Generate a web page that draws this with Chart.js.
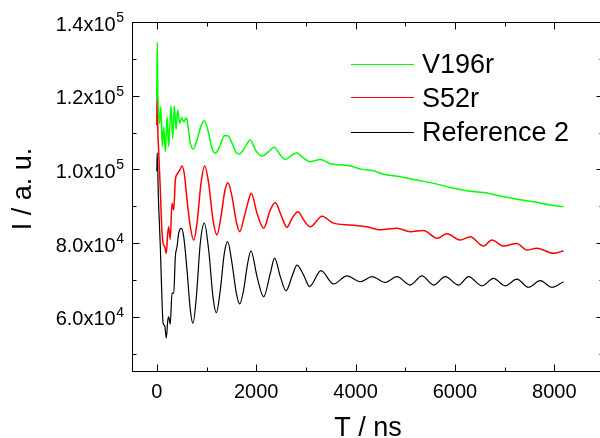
<!DOCTYPE html>
<html>
<head>
<meta charset="utf-8">
<script src="https://cdn.jsdelivr.net/npm/chart.js@4.4.0/dist/chart.umd.min.js"></script>
<style>
  html, body { margin: 0; padding: 0; background: #fff; overflow: hidden; }
  /* plot frame runs a few px past the right edge of the window, as in the original */
  #wrap { width: 610px; height: 438px; }
</style>
</head>
<body>
<div id="wrap"><canvas id="chart"></canvas></div>
<script>
// Series values (T in ns, I in a. u.)
const v196rT = [0, 8, 20, 40, 56, 80, 110, 137, 171, 205, 238, 285, 318, 352, 386, 419, 460, 500, 540, 594, 627, 674, 728, 808, 895, 956, 1043, 1110, 1177, 1278, 1358, 1425, 1513, 1600, 1667, 1761, 1881, 1982, 2117, 2250, 2364, 2485, 2585, 2720, 2820, 2921, 3088, 3290, 3491, 3726, 3893, 4128, 4362, 4563, 4899, 5235, 5570, 5905, 6241, 6575, 6911, 7247, 7582, 7918, 8185];
const v196rI = [119000, 134500, 121000, 114000, 112500, 117000, 106200, 111600, 104800, 114300, 106200, 117200, 108400, 117200, 110800, 116100, 112500, 114100, 112900, 114100, 111700, 107100, 105500, 108000, 112000, 113200, 109800, 105700, 104400, 106600, 109100, 109100, 107100, 104500, 104200, 105700, 108000, 105300, 103600, 104800, 106000, 103900, 102700, 103900, 104500, 103400, 102100, 102700, 101500, 101200, 100900, 100000, 99600, 98700, 98000, 97100, 96200, 95100, 94200, 93700, 92800, 91900, 91200, 90300, 89900];

const s52rT = [0, 5, 15, 40, 70, 100, 125, 160, 191, 215, 238, 270, 305, 340, 372, 420, 460, 507, 560, 607, 674, 741, 808, 889, 963, 1043, 1130, 1210, 1291, 1372, 1432, 1513, 1600, 1667, 1761, 1848, 1901, 2016, 2149, 2284, 2384, 2485, 2620, 2720, 2841, 2954, 3088, 3324, 3551, 3893, 4229, 4497, 4833, 5101, 5369, 5638, 5839, 6107, 6308, 6575, 6744, 6978, 7247, 7448, 7650, 7984, 8185];
const s52rI = [112000, 122500, 113000, 104000, 94400, 84000, 80000, 79000, 77200, 82000, 84400, 81000, 90800, 89000, 97100, 98900, 99800, 100900, 98100, 91700, 84400, 80800, 85400, 96200, 100900, 96200, 86300, 82200, 87200, 94400, 96400, 92600, 85800, 83100, 87200, 91700, 93500, 88100, 84000, 89000, 91000, 88100, 84300, 86700, 88500, 86300, 84400, 87300, 85400, 84900, 84400, 83600, 84000, 83100, 83400, 81300, 82500, 80800, 81700, 79200, 80800, 79200, 79900, 78100, 78600, 77200, 77900];

const ref2T = [0, 8, 30, 70, 100, 125, 160, 190, 220, 238, 270, 305, 340, 372, 406, 440, 493, 540, 607, 674, 728, 795, 875, 956, 1043, 1130, 1197, 1278, 1358, 1425, 1513, 1600, 1667, 1747, 1828, 1895, 2016, 2149, 2284, 2370, 2485, 2600, 2720, 2821, 2954, 3074, 3304, 3557, 3827, 4095, 4330, 4598, 4833, 5101, 5336, 5570, 5805, 6073, 6274, 6543, 6777, 7012, 7247, 7481, 7716, 7952, 8185];
const ref2I = [99500, 104500, 93000, 79000, 66000, 58300, 57500, 54200, 59000, 60000, 58000, 66400, 66400, 76300, 79000, 82700, 84000, 81800, 72700, 61800, 58200, 65400, 80000, 85400, 78100, 65400, 61100, 67300, 77200, 80400, 74500, 66400, 63500, 67300, 74500, 77900, 70900, 65400, 71800, 75900, 70900, 67000, 70900, 74000, 71300, 68200, 72500, 68900, 71100, 69500, 70900, 69300, 70900, 68600, 71100, 68600, 70900, 68600, 70900, 68400, 70400, 68400, 70200, 68000, 69800, 68000, 69500];

const seriesNames = ['V196r', 'S52r', 'Reference 2'];
const seriesColors = ['#00ff00', '#ff0000', '#000000'];
const seriesWidths = [1.5, 1.5, 1.2];

// Axis ticks and labels
const xMajor = [0, 2000, 4000, 6000, 8000];
const xMinor = [1000, 3000, 5000, 7000, 9000];
const yMajor = [60000, 80000, 100000, 120000, 140000];
const yMinor = [50000, 70000, 90000, 110000, 130000];
const yTickBase = ['6.0x10', '8.0x10', '1.0x10', '1.2x10', '1.4x10'];
const yTickExp = ['4', '4', '5', '5', '5'];

const FONT = '"Liberation Sans", Arial, sans-serif';

function pts(ts, vs) {
    return ts.map((t, i) => ({ x: t, y: vs[i] }));
}

// frame, inward ticks, tick labels, titles and legend
const framePlugin = {
    id: 'frame',
    afterDraw(chart) {
        const { ctx, chartArea: a, scales } = chart;
        const x = scales.x, y = scales.y;
        const L = Math.round(a.left) + 0.5, R = Math.round(a.right) - 0.5;
        const T = Math.round(a.top) + 0.5, B = Math.round(a.bottom) - 0.5;
        ctx.save();
        ctx.strokeStyle = '#000';
        ctx.lineWidth = 1;
        ctx.strokeRect(L, T, R - L, B - T);

        ctx.beginPath();
        const xt = (v, len) => {
            const p = Math.round(x.getPixelForValue(v)) + 0.5;
            ctx.moveTo(p, B); ctx.lineTo(p, B - len);
            ctx.moveTo(p, T); ctx.lineTo(p, T + len);
        };
        const yt = (v, len) => {
            const p = Math.round(y.getPixelForValue(v)) + 0.5;
            ctx.moveTo(L, p); ctx.lineTo(L + len, p);
            ctx.moveTo(R, p); ctx.lineTo(R - len, p);
        };
        xMajor.forEach(v => xt(v, 7));
        xMinor.forEach(v => xt(v, 4));
        yMajor.forEach(v => yt(v, 7));
        yMinor.forEach(v => yt(v, 4));
        ctx.stroke();

        ctx.fillStyle = '#000';
        // x tick labels
        ctx.font = '20px ' + FONT;
        ctx.textAlign = 'center';
        ctx.textBaseline = 'alphabetic';
        xMajor.forEach(v => ctx.fillText(String(v), x.getPixelForValue(v), 397.5));

        // y tick labels with exponent
        yMajor.forEach((v, i) => {
            const py = y.getPixelForValue(v);
            ctx.font = '14px ' + FONT;
            ctx.textAlign = 'right';
            ctx.fillText(yTickExp[i], 124, py);
            const ew = ctx.measureText(yTickExp[i]).width;
            ctx.font = '20px ' + FONT;
            ctx.fillText(yTickBase[i], 124 - ew - 0.5, py + 8.5);
        });

        // axis titles
        ctx.font = '27px ' + FONT;
        ctx.textAlign = 'center';
        ctx.fillText('T / ns', (a.left + a.right) / 2, 436);
        ctx.save();
        ctx.translate(24, 189);
        ctx.rotate(-Math.PI / 2);
        ctx.textBaseline = 'middle';
        ctx.fillText('I / a. u.', 0, 0);
        ctx.restore();

        // legend
        const rows = [63.5, 97.3, 131.5];
        chart.data.datasets.forEach((ds, i) => {
            const ry = Math.round(rows[i]) + 0.5;
            ctx.strokeStyle = ds.borderColor;
            ctx.lineWidth = 1.2;
            ctx.beginPath();
            ctx.moveTo(351, ry); ctx.lineTo(414, ry);
            ctx.stroke();
            ctx.fillStyle = '#000';
            ctx.font = '27px ' + FONT;
            ctx.textAlign = 'left';
            ctx.textBaseline = 'alphabetic';
            ctx.fillText(ds.label, 422, rows[i] + 9.7);
        });
        ctx.restore();
    }
};

const seriesData = [pts(v196rT, v196rI), pts(s52rT, s52rI), pts(ref2T, ref2I)];

new Chart(document.getElementById('chart'), {
    type: 'line',
    data: {
        datasets: seriesData.map((d, i) => ({
            label: seriesNames[i],
            data: d,
            borderColor: seriesColors[i],
            borderWidth: seriesWidths[i],
            pointRadius: 0,
            fill: false,
            cubicInterpolationMode: 'monotone'
        }))
    },
    options: {
        responsive: true,
        maintainAspectRatio: false,
        animation: false,
        layout: { padding: { left: 132, top: 22, right: 6, bottom: 66 } },
        scales: {
            x: { type: 'linear', min: -500, max: 9000, display: false },
            y: { type: 'linear', min: 45000, max: 140000, display: false }
        },
        plugins: {
            legend: { display: false },
            tooltip: { enabled: false }
        }
    },
    plugins: [framePlugin]
});
</script>
</body>
</html>
